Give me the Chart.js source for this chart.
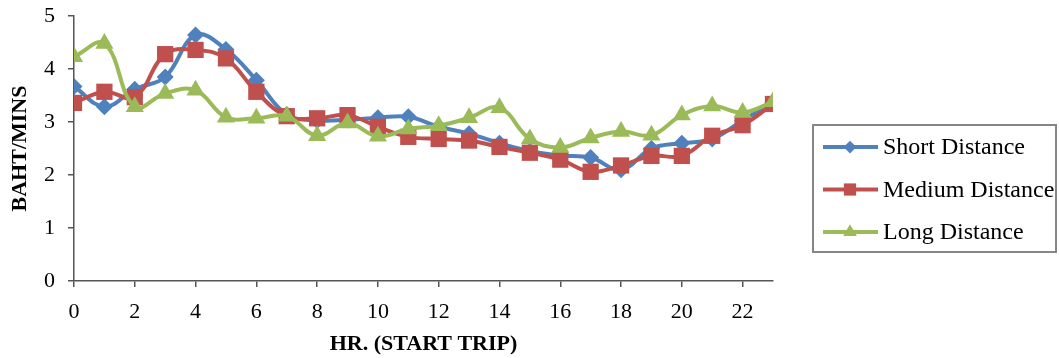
<!DOCTYPE html>
<html lang="en">
<head>
  <meta charset="UTF-8">
  <title>Baht per minute by start hour</title>
  <script src="https://cdn.jsdelivr.net/npm/chart.js"></script>
  <style>
    body { margin: 0; background: #fff; }
    #wrap { width: 1059px; height: 358px; }
  </style>
</head>
<body>
  <div id="wrap">
    <canvas id="myChart" width="1059" height="358"></canvas>
  </div>

  <script>
    // values
    const hours = [0, 1, 2, 3, 4, 5, 6, 7, 8, 9, 10, 11, 12, 13, 14, 15, 16, 17, 18, 19, 20, 21, 22, 23];
    const shortDist = [3.67, 3.29, 3.62, 3.85, 4.64, 4.37, 3.79, 3.14, 3.03, 3.04, 3.08, 3.1, 2.91, 2.78, 2.6, 2.45, 2.37, 2.33, 2.1, 2.5, 2.6, 2.68, 3.03, 3.36];
    const mediumDist = [3.36, 3.57, 3.47, 4.28, 4.36, 4.2, 3.57, 3.11, 3.07, 3.13, 2.91, 2.72, 2.68, 2.65, 2.53, 2.42, 2.29, 2.06, 2.18, 2.36, 2.36, 2.74, 2.94, 3.34];
    const longDist = [4.23, 4.48, 3.29, 3.54, 3.6, 3.09, 3.07, 3.11, 2.74, 2.98, 2.73, 2.87, 2.93, 3.08, 3.27, 2.68, 2.52, 2.7, 2.82, 2.75, 3.13, 3.3, 3.18, 3.38];
    const seriesNames = ['Short Distance', 'Medium Distance', 'Long Distance'];
    const yTicks = [0, 1, 2, 3, 4, 5];

    const FONT = "'Liberation Serif', 'Times New Roman', serif";

    function toPoints(vals) {
      return vals.map((v, i) => ({ x: hours[i], y: v }));
    }

    // boxed legend on the right, line + marker like the original
    const boxLegend = {
      id: 'boxLegend',
      afterDraw(chart) {
        const ctx = chart.ctx;
        const bx = 813, by = 125, bw = 243, bh = 127;
        ctx.save();
        ctx.strokeStyle = '#868686';
        ctx.lineWidth = 2;
        ctx.strokeRect(bx, by, bw, bh);
        ctx.font = '24px ' + FONT;
        ctx.textBaseline = 'middle';
        chart.data.datasets.forEach((ds, i) => {
          const y = by + 22 + i * 42.5;
          ctx.strokeStyle = ds.borderColor;
          ctx.lineWidth = 4;
          ctx.beginPath();
          ctx.moveTo(823, y);
          ctx.lineTo(878, y);
          ctx.stroke();
          ctx.fillStyle = ds.backgroundColor;
          Chart.helpers.drawPoint(ctx, {
            pointStyle: ds.pointStyle,
            radius: ds.pointRadius * 0.75,
            borderWidth: 0,
            rotation: 0
          }, 850, y);
          ctx.fillStyle = '#000';
          ctx.fillText(ds.label, 883, y + 1);
        });
        ctx.restore();
      }
    };

    const ctx = document.getElementById('myChart').getContext('2d');
    new Chart(ctx, {
      type: 'line',
      data: {
        datasets: [
          {
            label: seriesNames[0],
            data: toPoints(shortDist),
            borderColor: '#4F81BD',
            backgroundColor: '#4F81BD',
            pointStyle: 'rectRot',
            pointRadius: 8.5,
            pointBorderWidth: 0,
            borderWidth: 4,
            tension: 0.4,
            order: 3
          },
          {
            label: seriesNames[1],
            data: toPoints(mediumDist),
            borderColor: '#C0504D',
            backgroundColor: '#C0504D',
            pointStyle: 'rect',
            pointRadius: 11.5,
            pointBorderWidth: 0,
            borderWidth: 4,
            tension: 0.4,
            order: 2
          },
          {
            label: seriesNames[2],
            data: toPoints(longDist),
            borderColor: '#9BBB59',
            backgroundColor: '#9BBB59',
            pointStyle: 'triangle',
            pointRadius: 10.5,
            pointBorderWidth: 0,
            borderWidth: 4,
            tension: 0.4,
            order: 1
          }
        ]
      },
      options: {
        responsive: false,
        animation: false,
        layout: { padding: { left: 0, top: 16, right: 286, bottom: 0 } },
        plugins: {
          legend: { display: false },
          tooltip: { enabled: false }
        },
        scales: {
          x: {
            type: 'linear',
            min: 0,
            max: 23,
            afterFit: s => { s.height = 77; s.paddingLeft = 0; s.paddingRight = 0; },
            afterBuildTicks: s => { s.ticks = hours.filter(h => h % 2 === 0).map(h => ({ value: h })); },
            border: { color: '#555', width: 1.5 },
            grid: { drawOnChartArea: false, drawTicks: true, tickLength: 6, color: '#555', lineWidth: 1.5 },
            ticks: { color: '#000', padding: 12, maxRotation: 0, font: { family: FONT, size: 22 } },
            title: {
              display: true,
              text: 'HR. (START TRIP)',
              color: '#000',
              padding: { top: 0, bottom: 0 },
              font: { family: FONT, size: 22, weight: 'bold' }
            }
          },
          y: {
            min: 0,
            max: 5,
            afterFit: s => { s.width = 74; s.paddingTop = 0; s.paddingBottom = 0; },
            afterBuildTicks: s => { s.ticks = yTicks.map(v => ({ value: v })); },
            border: { color: '#555', width: 1.5 },
            grid: { drawOnChartArea: false, drawTicks: true, tickLength: 6, color: '#555', lineWidth: 1.5 },
            ticks: { color: '#000', padding: 13, font: { family: FONT, size: 22 } },
            title: {
              display: true,
              text: 'BAHT/MINS',
              color: '#000',
              padding: { top: 7, bottom: 0 },
              font: { family: FONT, size: 22, weight: 'bold' }
            }
          }
        }
      },
      plugins: [boxLegend]
    });
  </script>
</body>
</html>
